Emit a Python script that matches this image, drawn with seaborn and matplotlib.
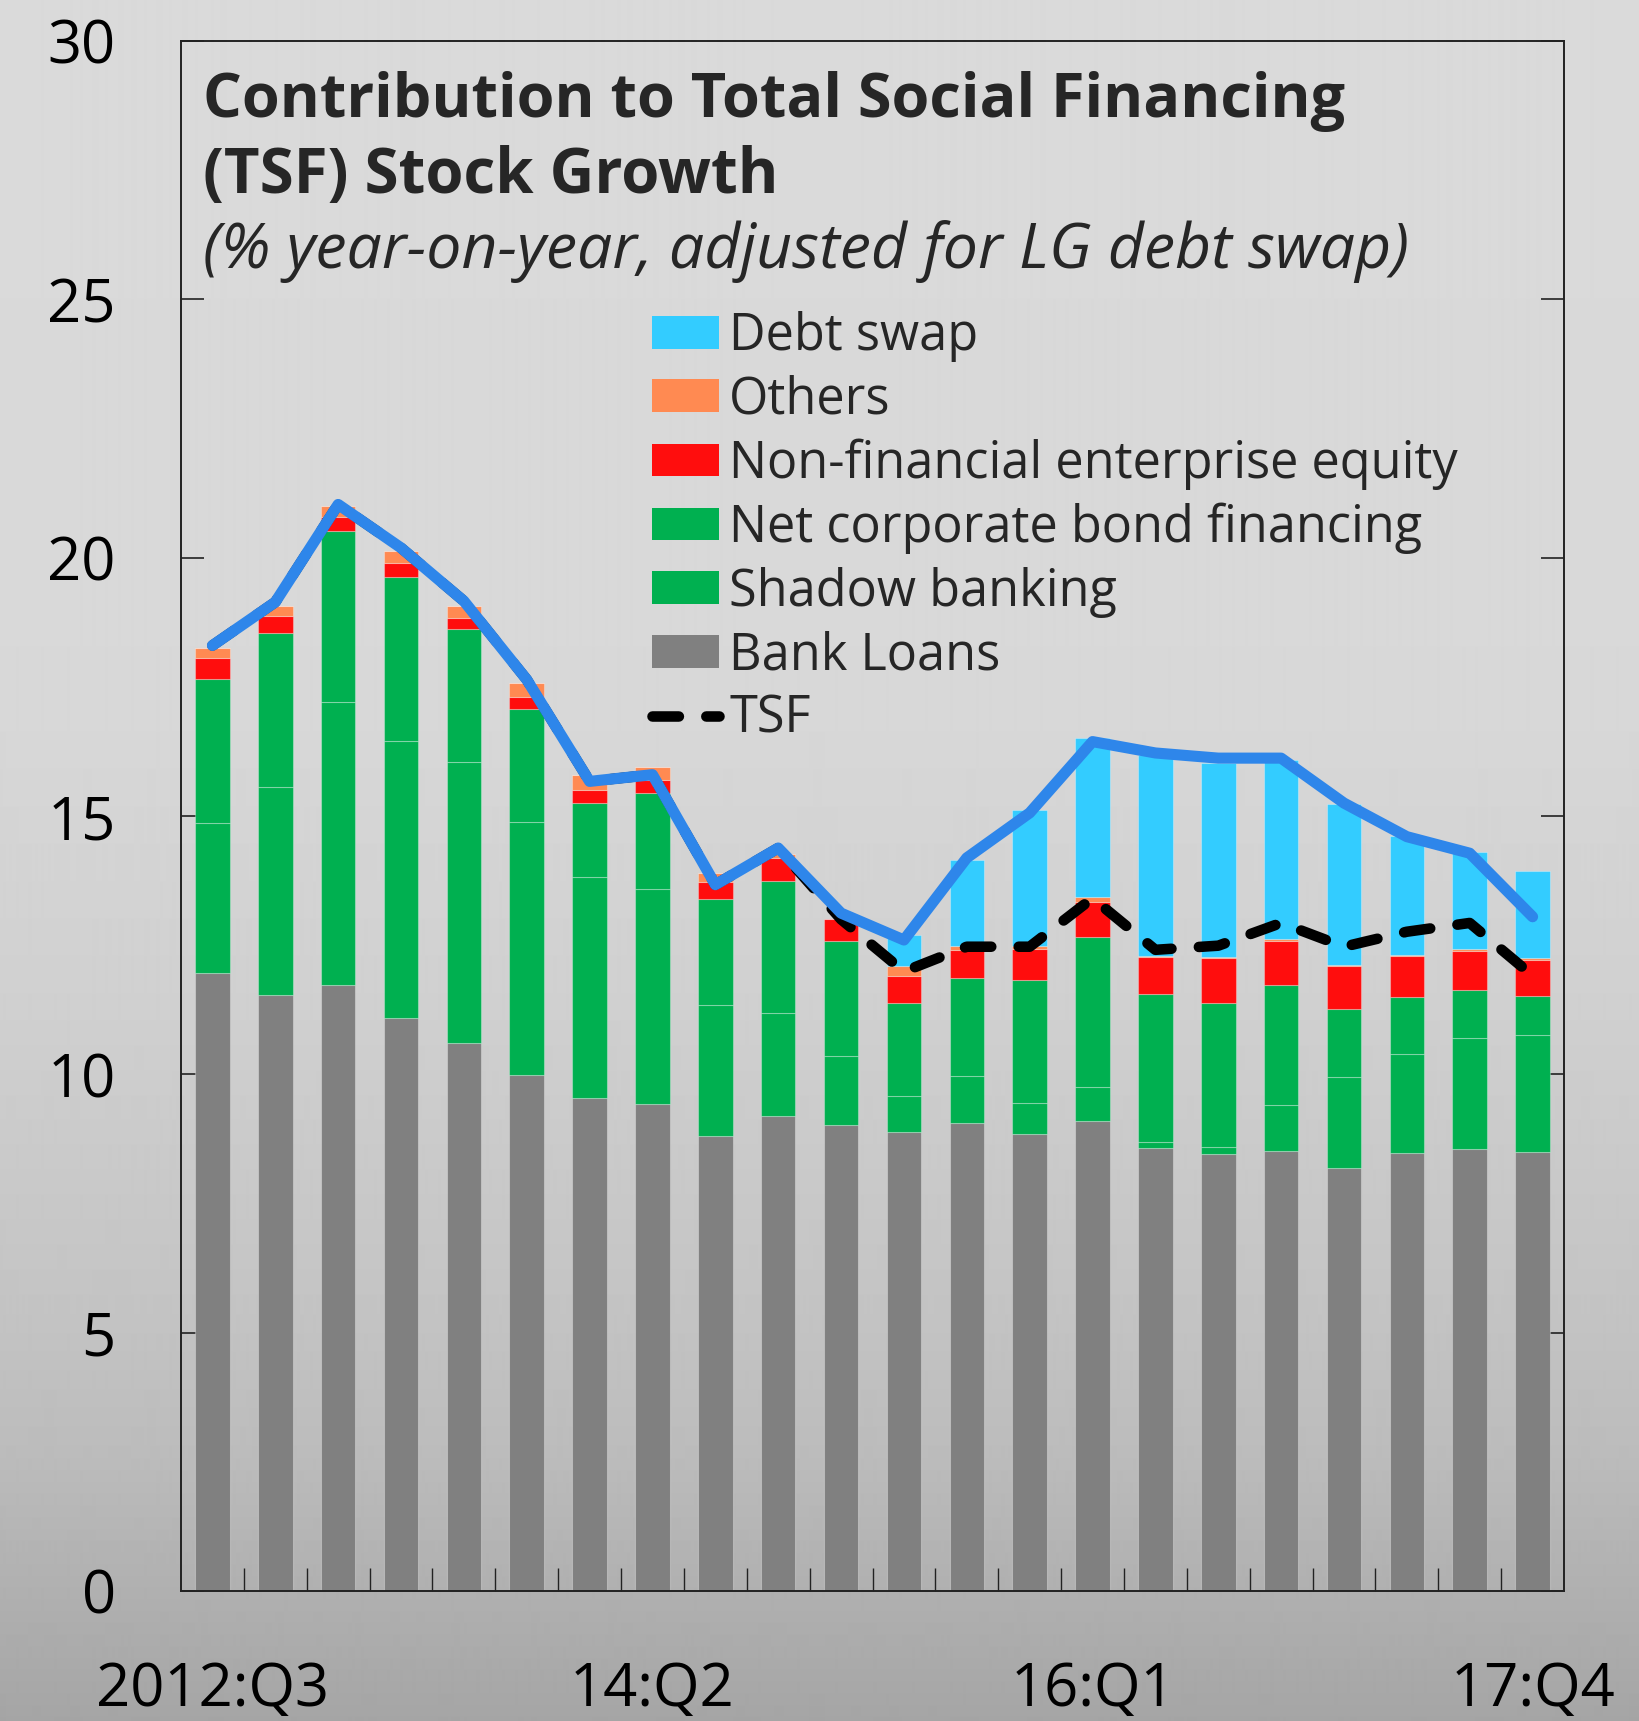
import numpy as np
import pandas as pd
import matplotlib
matplotlib.use("Agg")
import matplotlib.pyplot as plt
from matplotlib.patches import Patch
from matplotlib.lines import Line2D
import seaborn as sns

# ---- data: contributions to TSF stock growth (percentage points) ----
quarters = ["2012:Q3", "12:Q4",
            "13:Q1", "13:Q2", "13:Q3", "13:Q4",
            "14:Q1", "14:Q2", "14:Q3", "14:Q4",
            "15:Q1", "15:Q2", "15:Q3", "15:Q4",
            "16:Q1", "16:Q2", "16:Q3", "16:Q4",
            "17:Q1", "17:Q2", "17:Q3", "17:Q4"]
bank_loans = [11.96, 11.53, 11.73, 11.09, 10.61, 9.99, 9.54, 9.42, 8.81, 9.19, 9.01,
              8.88, 9.05, 8.84, 9.10, 8.57, 8.46, 8.52, 8.19, 8.47, 8.55, 8.50]
shadow_banking = [2.90, 4.04, 5.48, 5.36, 5.43, 4.90, 4.28, 4.16, 2.53, 2.00, 1.34,
                  0.70, 0.91, 0.60, 0.65, 0.13, 0.13, 0.88, 1.75, 1.92, 2.15, 2.26]
corporate_bonds = [2.80, 2.98, 3.30, 3.18, 2.58, 2.18, 1.44, 1.87, 2.06, 2.56, 2.23,
                   1.80, 1.91, 2.39, 2.91, 2.86, 2.80, 2.32, 1.32, 1.10, 0.93, 0.76]
nfe_equity = [0.40, 0.33, 0.27, 0.26, 0.21, 0.23, 0.25, 0.25, 0.33, 0.43, 0.42,
              0.53, 0.53, 0.59, 0.68, 0.71, 0.87, 0.87, 0.83, 0.81, 0.75, 0.69]
others = [0.20, 0.19, 0.22, 0.24, 0.24, 0.27, 0.28, 0.25, 0.16, 0.08, -0.05,
          0.18, 0.09, 0.07, 0.09, 0.02, 0.02, 0.03, 0.02, 0.01, 0.04, 0.04]
debt_swap = [0.00, 0.00, 0.00, 0.00, 0.00, 0.00, 0.00, 0.00, 0.00, 0.00, 0.00,
             0.60, 1.66, 2.62, 3.08, 3.90, 3.74, 3.47, 3.13, 2.30, 1.89, 1.69]
tsf_with_swap = [18.30, 19.14, 21.03, 20.19, 19.16, 17.64, 15.67, 15.80, 13.67, 14.38, 13.12,
                 12.60, 14.19, 15.06, 16.44, 16.22, 16.12, 16.12, 15.25, 14.60, 14.28, 13.05]
tsf = [18.30, 19.14, 21.03, 20.19, 19.16, 17.64, 15.67, 15.80, 13.67, 14.38, 13.00,
       11.99, 12.47, 12.47, 13.41, 12.41, 12.49, 12.93, 12.47, 12.76, 12.93, 11.91]

shown_quarters = ["2012:Q3", "14:Q2", "16:Q1", "17:Q4"]
y_ticks = [0, 5, 10, 15, 20, 25, 30]

title_lines = ["Contribution to Total Social Financing", "(TSF) Stock Growth"]
subtitle = "(% year-on-year, adjusted for LG debt swap)"

# stacking order, bottom to top
layers = [("Bank Loans", bank_loans, "#808080"),
          ("Shadow banking", shadow_banking, "#00B050"),
          ("Net corporate bond financing", corporate_bonds, "#00B050"),
          ("Non-financial enterprise equity", nfe_equity, "#FF0D0D"),
          ("Others", others, "#FF8A52"),
          ("Debt swap", debt_swap, "#33CCFF")]

df = pd.DataFrame({name: vals for name, vals, _ in layers})
df["quarter"] = quarters
df["pos"] = np.arange(len(quarters))
df["TSF"] = tsf
df["TSF incl. swap"] = tsf_with_swap

# ---- style ----
sns.set_theme(style="white")
FONT = ["Open Sans", "DejaVu Sans"]
plt.rcParams["font.family"] = FONT

W, H = 1639, 1721
fig = plt.figure(figsize=(W / 100, H / 100), dpi=100)

# vertical grey gradient behind everything
bg = fig.add_axes([0, 0, 1, 1])
bg.set_zorder(-10)
rows = np.arange(H)
shade = np.interp(rows, [0, 700, 1000, 1300, 1450, 1721],
                  [218, 216, 208, 196, 188, 165]) / 255.0
bg.imshow(np.repeat(shade[:, None], 2, axis=1), cmap="gray", vmin=0, vmax=1,
          aspect="auto", extent=[0, 1, 0, 1], origin="upper", interpolation="bilinear")
bg.axis("off")

ax = fig.add_axes([181 / W, 1 - 1591 / H, (1564 - 181) / W, (1591 - 41) / H])
ax.patch.set_alpha(0)

# ---- stacked bars (positives stack upward, negatives below zero) ----
pos_base = np.zeros(len(df))
neg_base = np.zeros(len(df))
for name, _, color in layers:
    v = df[name].to_numpy()
    bottom = np.where(v >= 0, pos_base, neg_base)
    sns.barplot(data=df, x="pos", y=name, ax=ax, color=color, saturation=1,
                width=0.55, bottom=bottom, errorbar=None,
                edgecolor=(1, 1, 1, 0.3), linewidth=0.8, zorder=2)
    pos_base += np.where(v >= 0, v, 0)
    neg_base += np.where(v < 0, v, 0)

# ---- lines ----
sns.lineplot(data=df, x="pos", y="TSF", ax=ax, color="black", linewidth=7.6,
             linestyle=(0, (2.5, 2.6)), dash_capstyle="round", zorder=4)
sns.lineplot(data=df, x="pos", y="TSF incl. swap", ax=ax, color="#2E86EA",
             linewidth=8, solid_capstyle="round", solid_joinstyle="round", zorder=5)

# ---- axes ----
ax.set_xlim(-0.5, len(quarters) - 0.5)
ax.set_ylim(0, 30)
ax.set_xlabel("")
ax.set_ylabel("")
ax.set_yticks(y_ticks)
ax.set_yticklabels([str(t) for t in y_ticks])
ax.set_xticks([quarters.index(q) for q in shown_quarters])
ax.set_xticklabels(shown_quarters)
ax.set_xticks(np.arange(len(quarters) - 1) + 0.5, minor=True)
ax.tick_params(axis="y", which="major", direction="in", length=16.5, width=1.2,
               left=True, right=True, labelsize=43, pad=47, colors="#222222",
               labelcolor="black")
ax.tick_params(axis="x", which="major", length=0, labelsize=43, pad=50,
               labelcolor="black")
ax.tick_params(axis="x", which="minor", direction="in", length=16.5, width=1,
               bottom=True, top=False, color="#222222")
for side in ["left", "right", "top", "bottom"]:
    ax.spines[side].set_visible(True)
    ax.spines[side].set_color("#222222")
    ax.spines[side].set_linewidth(1.4)
ax.grid(False)

# ---- title block ----
fig.text(203 / W, 1 - 117 / H, title_lines[0], fontsize=44, fontweight="bold",
         va="baseline", ha="left")
fig.text(203 / W, 1 - 193 / H, title_lines[1], fontsize=44.5, fontweight="bold",
         va="baseline", ha="left")
fig.text(203 / W, 1 - 268 / H, subtitle, fontsize=45, fontstyle="italic",
         va="baseline", ha="left")

# ---- legend ----
handles = [Patch(facecolor=c, edgecolor="none") for _, _, c in layers[::-1]]
labels = [n for n, _, _ in layers[::-1]]
handles.append(Line2D([], [], color="black", linewidth=7.6,
                      linestyle=(0, (2.5, 2.6)), dash_capstyle="round"))
labels.append("TSF")
ax.legend(handles, labels, loc="upper left",
          bbox_to_anchor=(652 / W, 1 - 311 / H), bbox_transform=fig.transFigure,
          frameon=False, fontsize=36.4, handlelength=1.33, handleheight=0.62,
          handletextpad=0.2, labelspacing=0.25, borderpad=0, borderaxespad=0)

fig.savefig("out.png", dpi=100)
